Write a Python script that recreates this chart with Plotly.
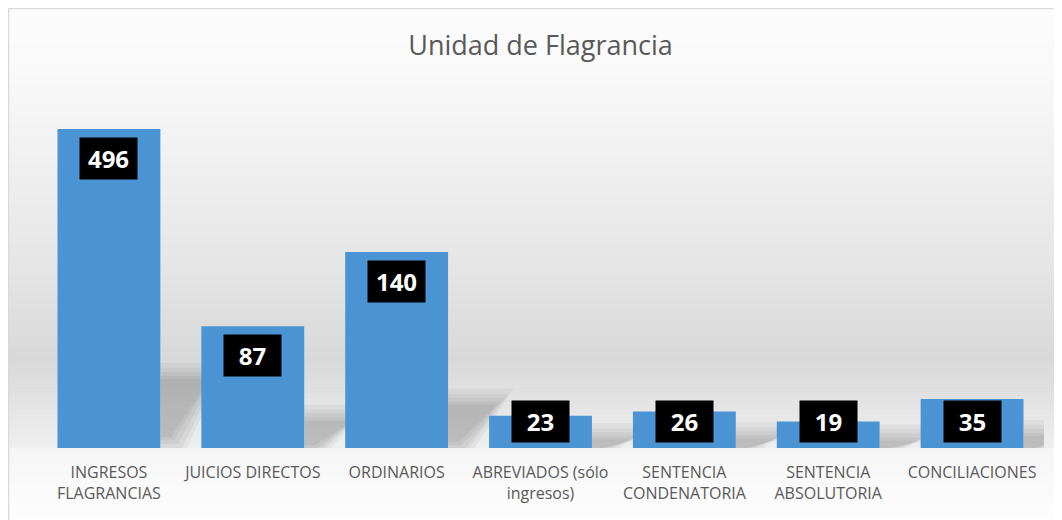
import plotly.graph_objects as go

# ── Data ───────────────────────────────────────────────────────────────────────
categories = ['INGRESOS<br>FLAGRANCIAS', 'JUICIOS DIRECTOS', 'ORDINARIOS',
              'ABREVIADOS (sólo<br>ingresos)', 'SENTENCIA<br>CONDENATORIA',
              'SENTENCIA<br>ABSOLUTORIA', 'CONCILIACIONES']
values = [496, 87, 140, 23, 26, 19, 35]

TITLE = 'Unidad de Flagrancia'
Y_MAX = 228          # axis max used in the original (first bar is clipped)
LABEL_FLOOR = 40     # labels never sit lower than this (data units)

# ── Geometry (pixels, in window coordinates) ───────────────────────────────────
OFF = 8              # page body margin: the figure starts 8px in
W, H = 1062 - OFF, 520 - OFF
L, R, T, B = 37 - OFF, 18, 129 - OFF, 72
PLOT_BOTTOM = 448
PLOT_H = PLOT_BOTTOM - 129
PLOT_W = W - L - R
BAR_W = 0.715
PX_PER_CAT = PLOT_W / len(categories)
PX_PER_UNIT = PLOT_H / Y_MAX


def py_to_paper(py):
    return (PLOT_BOTTOM - py) / PLOT_H


def px_to_paper(px):
    return (px - 37) / PLOT_W


# ── Background gradient (Excel style wall + floor) ────────────────────────────
stops = [(0, 252), (60, 250), (160, 240), (260, 230), (360, 216),
         (427, 234), (448, 238), (448.01, 245), (480, 249), (520, 253)]

shapes = []
for (y0, g0), (y1, g1) in zip(stops[:-1], stops[1:]):
    n = max(1, int((y1 - y0) / 4))
    for k in range(n):
        a = y0 + (y1 - y0) * k / n
        b = y0 + (y1 - y0) * (k + 1) / n
        g = round(g0 + (g1 - g0) * (k + 0.5) / n)
        shapes.append(dict(type='rect', xref='paper', yref='paper',
                           x0=px_to_paper(0), x1=px_to_paper(1070),
                           y0=py_to_paper(min(b + 0.6, y1)),
                           y1=py_to_paper(a),
                           line_width=0, fillcolor=f'rgb({g},{g},{g})',
                           layer='below'))

# chart border (top + left)
shapes.append(dict(type='line', xref='paper', yref='paper',
                   x0=px_to_paper(8.5), x1=px_to_paper(1070),
                   y0=py_to_paper(8.5), y1=py_to_paper(8.5),
                   line=dict(color='#d9d9d9', width=1.5), layer='below'))
shapes.append(dict(type='line', xref='paper', yref='paper',
                   x0=px_to_paper(8.5), x1=px_to_paper(8.5),
                   y0=py_to_paper(8.5), y1=py_to_paper(530),
                   line=dict(color='#d9d9d9', width=1.5), layer='below'))

# soft cast shadows falling back-right from every bar
x_idx = list(range(len(categories)))
for i, v in zip(x_idx, values):
    hd = min(v, Y_MAX)
    xr = i + BAR_W / 2
    for blur in (18, 13, 9, 5, 2):
        dx = blur / PX_PER_CAT
        dy = blur / PX_PER_UNIT
        lo = max(0, 0.04 * hd - dy)
        top = 0.21 * hd + dy
        path = (f'M {xr},{lo} L {xr + 0.06 + dx},{lo} '
                f'L {xr + 0.33 + dx},{top} L {xr},{top} Z')
        shapes.append(dict(type='path', xref='x', yref='y', path=path,
                           fillcolor='rgba(0,0,0,0.045)', line_width=0,
                           layer='below'))

# ── Figure ─────────────────────────────────────────────────────────────────────
fig = go.Figure(go.Bar(
    x=x_idx, y=values,
    width=BAR_W,
    marker=dict(color='#4a94d4', line_width=0),
    hoverinfo='x+y'
))

annotations = []
for i, v in zip(x_idx, values):
    annotations.append(dict(
        x=i, y=max(min(v, Y_MAX), LABEL_FLOOR),
        xref='x', yref='y', yanchor='top', yshift=-8,
        text=f'<b>{v}</b>', showarrow=False,
        width=57, height=41, bgcolor='black', borderpad=0,
        font=dict(family='Open Sans', size=24, color='white')
    ))

fig.update_layout(
    width=W, height=H,
    margin=dict(l=L, r=R, t=T, b=B),
    paper_bgcolor='white',
    plot_bgcolor='rgba(0,0,0,0)',
    title=dict(text=TITLE, x=0.5, xref='paper', xanchor='center',
               y=1 - (46 - OFF) / H, yanchor='middle',
               font=dict(family='Open Sans', size=27, color='#595959')),
    xaxis=dict(range=[-0.5, len(categories) - 0.5],
               tickvals=x_idx, ticktext=categories,
               showgrid=False, zeroline=False, showline=False, ticks='',
               tickfont=dict(family='Open Sans', size=16, color='#595959'),
               ticklabelstandoff=13),
    yaxis=dict(range=[0, Y_MAX], visible=False, showgrid=False,
               zeroline=False),
    shapes=shapes,
    annotations=annotations,
    showlegend=False,
    bargap=1 - BAR_W,
)

fig.write_html('out.html')
